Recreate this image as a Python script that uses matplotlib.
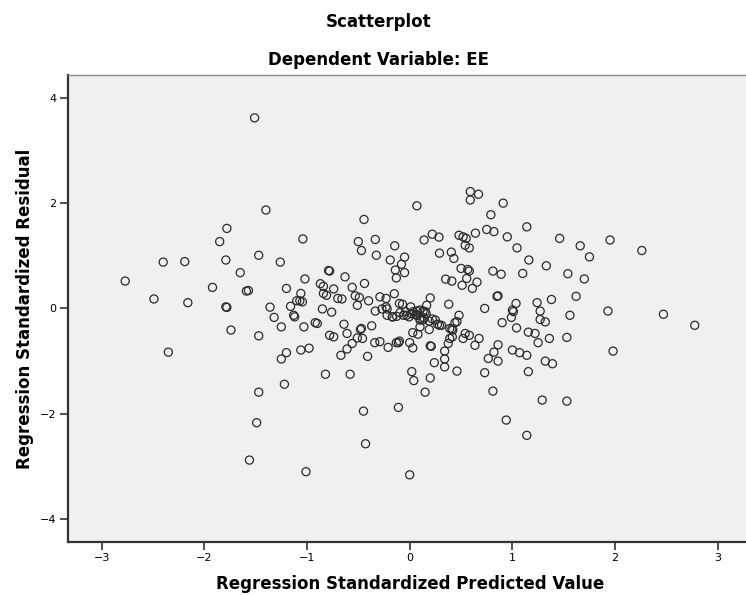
"""
SPSS-style residual scatterplot: standardized residual vs standardized predicted value
(dependent variable EE). Point positions read off the reference picture.
"""
import matplotlib

matplotlib.use("Agg")
import matplotlib.pyplot as plt

# standardized predicted value (x) and standardized residual (y), one entry per case
pred_value = [
    # far left
    -1.51, -1.78, -1.85, -2.40, -2.19, -1.79, -1.47, -1.65, -2.77, -1.92,
    -1.59, -1.57, -2.49, -2.16, -1.79, -1.78, -1.74, -1.47, -2.35, -1.47,
    -1.49, -1.56,
    # upper-left middle
    -1.40, 0.07, -0.445, -1.04, -0.50, -0.335, -0.47, -0.146, -1.26, -0.325,
    -0.19, -0.05, -0.08, -0.14, -0.05, -0.13, -0.79, -0.78, -0.63, -1.02,
    -0.44, -0.56, -1.20, -0.87, -0.84, -0.74, -1.06, -0.84, -0.81, -0.70,
    -0.66, -0.53, -0.49, -0.40, -0.51, -0.29, -0.23, -0.15, -0.10, 0.01,
    -1.10, -1.07, -1.045, -1.16, -1.36, -0.85, -0.76, -1.13, -1.12, -1.32,
    -0.23, -0.22, -0.335, -0.22, -0.165, -0.127, -0.06, -0.007, 0.074,
    # lower-left middle
    -1.25, -1.03, -0.92, -0.90, -0.64, -0.61, -0.78, -0.74, -0.48, -0.51,
    -0.46, -0.37, -0.56, -0.61, -0.67, -0.41, -0.34, -0.21, -0.13, -0.11,
    0.03, 0.03, 0.08, -1.06, -0.98, -1.20, -1.25, -0.82, -0.58, -1.22,
    0.02, 0.04, -0.45, -0.11, -0.43, -1.01, 0.00,
    # upper-right middle
    0.59, 0.67, 0.59, 0.91, 0.79, 1.14, 1.46, 0.75, 0.82, 0.64,
    0.95, 1.045, 1.16, 1.33, 1.10, 1.54, 0.14, 0.22, 0.285, 0.48,
    0.52, 0.55, 0.54, 0.58, 0.29, 0.405, 0.43, 0.50, 0.565, 0.58,
    0.555, 0.35, 0.41, 0.655, 0.51, 0.61, 0.81, 0.89, 0.85, 0.86,
    0.73, 1.035, 1.00, 1.24, 1.27, 1.38, 0.38, 0.48, 0.20, 0.165,
    0.13, 0.07, -0.04, -0.07,
    # lower-right middle
    0.44, 0.41, 0.42, 0.27, 0.31, 0.19, 0.19, 0.02, 0.06, 0.10,
    0.14, 0.16, 0.22, 0.25, 0.20, 0.21, 0.375, 0.415, 0.34, 0.34,
    0.34, 0.24, 0.46, 0.20, 0.15, 0.54, 0.58, 0.675, 0.635, 0.86,
    0.82, 0.765, 0.86, 0.73, 0.81, 0.94, 1.14, 0.90, 0.99, 1.01,
    1.04, 1.00, 1.07, 1.14, 1.155, 1.155, 1.22, 1.25, 1.36, 1.27,
    1.32, 1.32, 1.39, 1.29, 1.53, 1.53, 1.56,
    # far right
    1.66, 1.75, 1.95, 2.26, 1.70, 1.62, 1.93, 2.47, 2.775, 1.98,
    # dense centre
    -0.17, -0.095, -0.03, 0.035, 0.10, 0.15, 0.10, 0.13, 0.29, 0.10,
    0.39, 0.46, 0.39, 0.52, -0.29, -0.10, 0.00, -0.47, -0.27,
]
std_residual = [
    # far left
    3.62, 1.52, 1.27, 0.88, 0.89, 0.92, 1.01, 0.68, 0.52, 0.40,
    0.33, 0.34, 0.18, 0.11, 0.03, 0.02, -0.41, -0.52, -0.83, -1.59,
    -2.17, -2.88,
    # upper-left middle
    1.87, 1.95, 1.69, 1.32, 1.27, 1.31, 1.10, 1.19, 0.88, 1.01,
    0.92, 0.975, 0.84, 0.73, 0.68, 0.58, 0.72, 0.71, 0.60, 0.56,
    0.475, 0.40, 0.38, 0.47, 0.42, 0.37, 0.285, 0.285, 0.25, 0.19,
    0.18, 0.24, 0.21, 0.145, 0.06, 0.22, 0.19, 0.28, 0.095, 0.03,
    0.145, 0.145, 0.125, 0.04, 0.025, -0.01, -0.07, -0.13, -0.16, -0.17,
    0.03, -0.01, -0.05, -0.13, -0.16, -0.15, -0.13, -0.16, -0.13,
    # lower-left middle
    -0.35, -0.35, -0.27, -0.285, -0.30, -0.475, -0.51, -0.54, -0.40, -0.56,
    -0.57, -0.33, -0.665, -0.77, -0.89, -0.91, -0.65, -0.74, -0.65, -0.65,
    -0.75, -0.46, -0.49, -0.79, -0.755, -0.84, -0.96, -1.25, -1.25, -1.44,
    -1.20, -1.37, -1.95, -1.88, -2.57, -3.10, -3.16,
    # upper-right middle
    2.22, 2.17, 2.06, 2.00, 1.78, 1.55, 1.33, 1.50, 1.46, 1.43,
    1.36, 1.15, 0.92, 0.81, 0.665, 0.66, 1.30, 1.41, 1.355, 1.39,
    1.36, 1.33, 1.20, 1.15, 1.05, 1.07, 0.95, 0.76, 0.74, 0.71,
    0.57, 0.557, 0.52, 0.50, 0.44, 0.38, 0.71, 0.65, 0.23, 0.24,
    0.00, 0.095, -0.03, 0.11, -0.05, 0.17, 0.08, -0.13, 0.20, 0.06,
    -0.05, -0.05, -0.06, 0.08,
    # lower-right middle
    -0.27, -0.39, -0.41, -0.30, -0.32, -0.24, -0.40, -0.10, -0.12, -0.22,
    -0.18, -0.10, -0.20, -0.22, -0.71, -0.72, -0.665, -0.54, -0.81, -0.96,
    -1.11, -1.03, -1.19, -1.32, -1.59, -0.475, -0.51, -0.57, -0.70, -0.69,
    -0.83, -0.95, -1.00, -1.22, -1.57, -2.12, -2.41, -0.27, -0.17, -0.06,
    -0.37, -0.79, -0.84, -0.89, -1.20, -0.45, -0.475, -0.65, -0.57, -0.21,
    -0.255, -1.00, -1.05, -1.74, -1.76, -0.55, -0.13,
    # far right
    1.19, 0.98, 1.30, 1.10, 0.56, 0.23, -0.05, -0.11, -0.32, -0.81,
    # dense centre
    -0.16, -0.08, -0.13, -0.06, -0.03, -0.06, -0.19, -0.22, -0.32, -0.35,
    -0.38, -0.25, -0.57, -0.57, -0.63, -0.62, -0.65, -0.38, -0.01,
]

X_TICKS = [-3, -2, -1, 0, 1, 2, 3]
Y_TICKS = [-4, -2, 0, 2, 4]

plt.rcParams["font.family"] = "DejaVu Sans"

fig = plt.figure(figsize=(7.46, 5.95), dpi=100)
ax = fig.add_axes([0.0907, 0.0896, 0.917, 0.784])
ax.set_facecolor("#f0f0f0")

ax.scatter(pred_value, std_residual, s=34, facecolors="none",
           edgecolors="#2b2b2b", linewidths=0.9, zorder=3)

ax.set_xlim(-3.33, 3.33)
ax.set_ylim(-4.43, 4.43)
ax.set_xticks(X_TICKS)
ax.set_yticks(Y_TICKS)
ax.tick_params(direction="out", length=6, width=1.2, color="#333333",
               labelsize=8, pad=2)

for side in ("left", "bottom"):
    ax.spines[side].set_color("#333333")
    ax.spines[side].set_linewidth(1.6)
for side in ("top", "right"):
    ax.spines[side].set_color("#8a8a8a")
    ax.spines[side].set_linewidth(1.0)

ax.set_xlabel("Regression Standardized Predicted Value", fontsize=12,
              fontweight="bold", labelpad=9)
ax.set_ylabel("Regression Standardized Residual", fontsize=12,
              fontweight="bold", labelpad=4)

fig.text(0.507, 1 - 22 / 595, "Scatterplot", ha="center", va="center",
         fontsize=12, fontweight="bold")
fig.text(0.507, 1 - 60 / 595, "Dependent Variable: EE", ha="center",
         va="center", fontsize=12, fontweight="bold")

fig.savefig("out.png", dpi=100)
